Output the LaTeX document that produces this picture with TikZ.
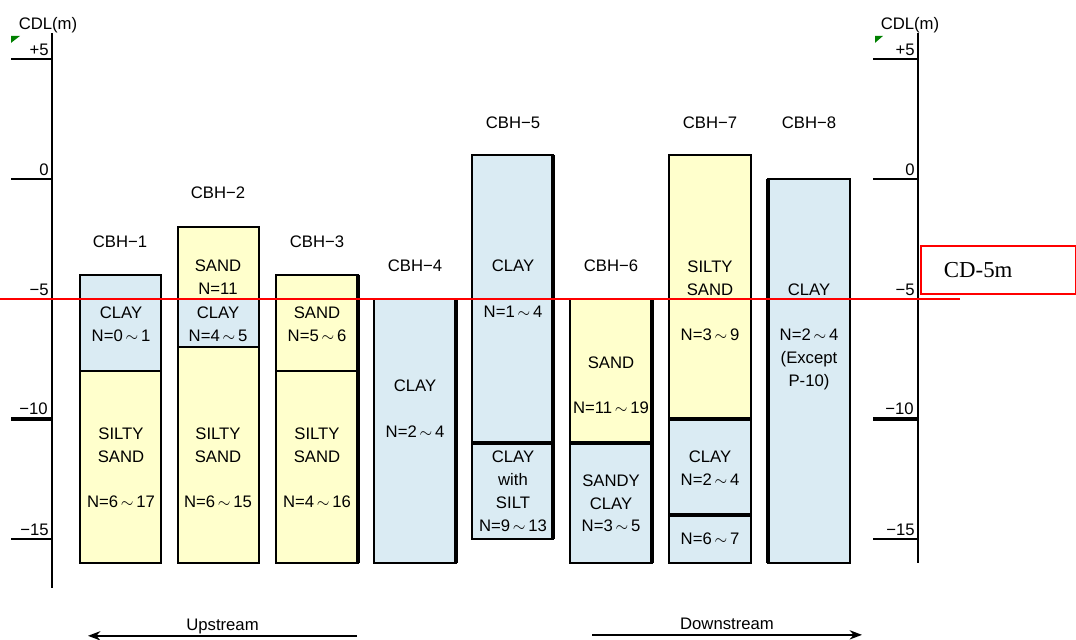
\documentclass[tikz,border=0pt]{standalone}
\usepackage{fontspec}
\setmainfont{Liberation Sans}
\newfontfamily\cdfont{Liberation Serif}
\usetikzlibrary{arrows.meta}
\definecolor{claycol}{RGB}{218,235,243}
\definecolor{sandcol}{RGB}{255,255,204}
\definecolor{markgreen}{RGB}{0,128,0}
\newcommand{\til}{\,$\sim$\,}

\begin{document}
\begin{tikzpicture}[x=0.02cm,y=0.48cm,>=Stealth,
  every node/.style={font=\fontsize{9.5}{13}\selectfont},
  clay/.style={draw,line width=0.8pt,fill=claycol},
  sand/.style={draw,line width=0.8pt,fill=sandcol},
  edge/.style={line width=2pt},
  lyr/.style={align=center,inner sep=0pt},
  ax/.style={line width=0.9pt},
  tk/.style={anchor=south east,inner sep=1.5pt}]
\useasboundingbox (0,7.458) rectangle (1076,-19.208);

% depth axes
\draw[ax] (52,6.08) -- (52,-17.04);
\draw[ax] (918,6.08) -- (918,-16.0);
\foreach \d/\t/\w in {5/+5/0.9,0/0/0.9,-5/−5/0.9,-10/−10/2,-15/−15/0.9}{
  \draw[line width=\w pt] (11,\d) -- (52,\d) node[tk] (lt\d) {\t};
  \draw[line width=\w pt] (873,\d) -- (918,\d) node[tk] (rt\d) {\t};
}
\node (lcdl) at (48,6.42) {CDL(m)};
\node (rcdl) at (910,6.42) {CDL(m)};
\fill[markgreen] (11,5.96) -- (20,5.96) -- (11,5.67) -- cycle;
\fill[markgreen] (875,5.96) -- (883,5.96) -- (875,5.67) -- cycle;

% borings
\draw[clay] (80,-4) rectangle (161,-8);
\draw[sand] (80,-8) rectangle (161,-16);
\draw[sand] (178,-2) rectangle (259,-5);
\draw[clay] (178,-5) rectangle (259,-7);
\draw[sand] (178,-7) rectangle (259,-16);
\draw[sand] (276,-4) rectangle (358,-8);
\draw[sand] (276,-8) rectangle (358,-16);
\draw[clay] (374,-5) rectangle (456,-16);
\draw[clay] (472,1) rectangle (553,-11);
\draw[clay] (472,-11) rectangle (553,-15);
\draw[sand] (570,-5) rectangle (652,-11);
\draw[clay] (570,-11) rectangle (652,-16);
\draw[sand] (669,1) rectangle (751,-10);
\draw[clay] (669,-10) rectangle (751,-14);
\draw[clay] (669,-14) rectangle (751,-16);
\draw[clay] (768,0) rectangle (850,-16);
% heavy edges
\draw[edge] (358,-4) -- (358,-16);
\draw[edge] (456,-5) -- (456,-16);
\draw[edge] (553,1) -- (553,-15);
\draw[edge] (472,-11) -- (553,-11);
\draw[edge] (652,-5) -- (652,-16);
\draw[edge] (570,-11) -- (652,-11);
\draw[edge] (669,-10) -- (751,-10);
\draw[edge] (669,-14) -- (751,-14);
\draw[edge] (768,0) -- (768,-16);

\node (h1) at (120,-2.625) {CBH−1};
\node (h2) at (218,-0.583) {CBH−2};
\node (h3) at (317,-2.625) {CBH−3};
\node (h4) at (415,-3.625) {CBH−4};
\node (h5) at (513,2.333) {CBH−5};
\node (h6) at (611,-3.625) {CBH−6};
\node (h7) at (710,2.333) {CBH−7};
\node (h8) at (809,2.333) {CBH−8};

\node[lyr] (b1c) at (121,-6.04) {CLAY\\N=0\til1};
\node[lyr] (b1s) at (121,-12.04) {SILTY\\SAND\\[13pt]N=6\til17};
\node[lyr] (b2a) at (218,-4.08) {SAND\\N=11};
\node[lyr] (b2c) at (218,-6.04) {CLAY\\N=4\til5};
\node[lyr] (b2s) at (218,-12.04) {SILTY\\SAND\\[13pt]N=6\til15};
\node[lyr] (b3a) at (317,-6.04) {SAND\\N=5\til6};
\node[lyr] (b3s) at (317,-12.04) {SILTY\\SAND\\[13pt]N=4\til16};
\node[lyr] (b4c) at (415,-9.58) {CLAY\\[13pt]N=2\til4};
\node[lyr] (b5c) at (513,-4.58) {CLAY\\[13pt]N=1\til4};
\node[lyr] (b5w) at (513,-13.02) {CLAY\\with\\SILT\\N=9\til13};
\node[lyr] (b6a) at (611,-8.6) {SAND\\[13pt]N=11\til19};
\node[lyr] (b6c) at (611,-13.52) {SANDY\\CLAY\\N=3\til5};
\node[lyr] (b7s) at (710,-5.08) {SILTY\\SAND\\[13pt]N=3\til9};
\node[lyr] (b7c) at (710,-12.04) {CLAY\\N=2\til4};
\node[lyr] (b7d) at (710,-15) {N=6\til7};
\node[lyr] (b8c) at (809,-6.58) {CLAY\\[13pt]N=2\til4\\(Except\\P-10)};

% CD -5m line
\draw[red,line width=1.1pt] (0,-5) -- (960,-5);
\node[draw=red,line width=1.1pt,anchor=north west,minimum width=3.1cm,
  minimum height=0.96cm,text width=2.18cm,inner xsep=0.46cm,align=left,
  font=\cdfont\fontsize{13}{15}\selectfont] (cd) at (920,-2.75) {CD-5m};

% flow direction
\coordinate (upA) at (357,-19.04);
\coordinate (upB) at (88,-19.04);
\coordinate (dnA) at (592,-19.0);
\coordinate (dnB) at (862,-19.0);
\draw[->,line width=0.9pt] (upA) -- (upB)
  node[midway,above=-1pt,text depth=0pt] (up) {Upstream};
\draw[->,line width=0.9pt] (dnA) -- (dnB)
  node[midway,above=-1pt,text depth=0pt] (dn) {Downstream};
\end{tikzpicture}
\end{document}
